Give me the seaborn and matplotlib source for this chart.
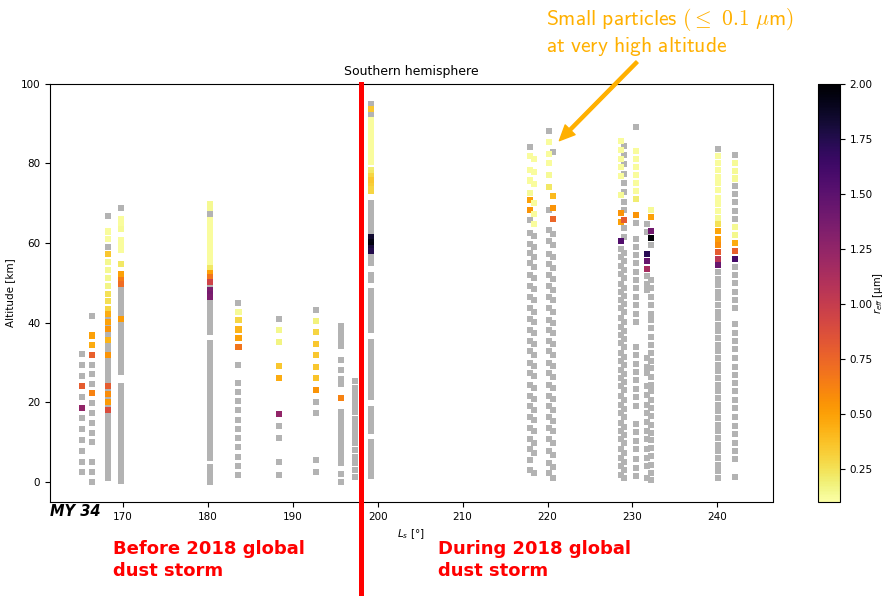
import numpy as np
import pandas as pd
import matplotlib
matplotlib.use("Agg")
import matplotlib.pyplot as plt
import seaborn as sns
from matplotlib.colors import Normalize
from matplotlib.cm import ScalarMappable

# Occultation profiles: solar longitude, altitudes without a retrieval (grey),
# and altitudes with a retrieved effective radius r_eff [um].
ls_p01 = 165.2
gray_p01 = [32.2, 29.5, 26.7, 21.3, 16.0, 13.3, 10.5, 7.8, 5.0, 2.5]
dust_alt_p01 = [24.0, 18.7]
dust_reff_p01 = [0.80, 1.25]

ls_p02 = 166.4
gray_p02 = [41.6, 29.5, 27.1, 24.7, 19.8, 17.3, 14.9, 12.4, 10.0, 5.0, 2.5, 0.0]
dust_alt_p02 = [36.8, 34.4, 32.0, 22.3]
dust_reff_p02 = [0.50, 0.45, 0.78, 0.62]

ls_p03 = 168.2
gray_p03 = [66.7, 59.1, 41.2, 39.3, 37.4, 36.5, 34.6, 33.6, 32.7, 30.9, 29.9, 28.9,
            27.9, 26.9, 25.9, 24.9, 23.0, 21.1, 19.1, 17.0, 16.0, 15.0, 14.0, 13.0,
            12.0, 11.0, 10.0, 9.0, 8.0, 7.0, 6.0, 5.0, 4.0, 3.0, 2.0, 1.0]
dust_alt_p03 = [62.9, 61.0, 57.2, 55.2, 53.3, 51.3, 49.3, 47.3, 45.4, 43.5, 42.2,
                40.2, 38.4, 35.7, 31.9, 24.0, 22.1, 20.1, 18.0]
dust_reff_p03 = [0.12, 0.12, 0.35, 0.15, 0.14, 0.15, 0.16, 0.25, 0.26, 0.30, 0.45,
                 0.50, 0.55, 0.42, 0.55, 0.80, 0.58, 0.52, 0.88]

ls_p04 = 169.8
gray_p04 = [68.8, 48.6, 47.6, 46.6, 45.6, 44.6, 43.6, 42.6, 41.7, 39.9, 38.9, 37.9,
            36.9, 35.9, 34.9, 33.9, 32.8, 31.8, 30.8, 29.8, 28.7, 27.6, 24.2, 23.2,
            22.2, 21.2, 20.2, 19.2, 18.2, 17.2, 16.2, 15.2, 14.2, 13.2, 12.2, 11.2,
            10.2, 9.2, 8.2, 7.2, 6.2, 5.2, 4.2, 3.2, 2.2, 1.2, 0.2]
dust_alt_p04 = [66.1, 64.8, 63.6, 60.7, 59.4, 58.2, 54.8, 52.2, 50.8, 49.8, 40.9]
dust_reff_p04 = [0.12, 0.12, 0.13, 0.12, 0.12, 0.12, 0.22, 0.50, 0.65, 0.72, 0.52]

ls_p05 = 180.2
gray_p05 = [67.8, 66.8, 49.2, 45.4, 44.5, 43.6, 42.7, 41.8, 40.9, 40.0, 39.1, 38.2,
            37.6, 35.0, 34.1, 33.2, 32.3, 31.4, 30.5, 29.6, 28.7, 27.8, 26.9, 26.0,
            25.1, 24.2, 23.3, 22.4, 21.5, 20.6, 19.7, 18.8, 17.9, 17.0, 16.1, 15.2,
            14.3, 13.4, 12.5, 11.6, 10.7, 9.8, 8.9, 8.0, 7.1, 6.0, 3.7, 2.8, 1.9,
            1.0, 0.1]
dust_alt_p05 = [69.8, 68.9, 65.8, 65.0, 64.2, 63.4, 62.6, 61.8, 61.0, 60.2, 59.4,
                58.6, 57.8, 57.0, 56.2, 55.4, 54.6, 53.8, 52.6, 51.5, 50.2, 48.3,
                47.3, 46.5]
dust_reff_p05 = [0.14, 0.14, 0.12, 0.12, 0.12, 0.12, 0.12, 0.12, 0.12, 0.12, 0.12,
                 0.12, 0.12, 0.12, 0.12, 0.12, 0.12, 0.22, 0.50, 0.68, 0.95, 1.35,
                 1.38, 1.35]

ls_p06 = 183.6
gray_p06 = [45.0, 29.4, 24.8, 22.6, 20.3, 18.0, 15.7, 13.4, 11.1, 8.8, 6.4, 4.1, 1.8]
dust_alt_p06 = [42.8, 40.6, 38.3, 36.1, 33.8]
dust_reff_p06 = [0.13, 0.30, 0.42, 0.50, 0.68]

ls_p07 = 188.4
gray_p07 = [41.0, 14.1, 11.0, 5.0, 1.9]
dust_alt_p07 = [38.1, 35.1, 29.2, 26.2, 17.1]
dust_reff_p07 = [0.15, 0.17, 0.35, 0.45, 1.25]

ls_p08 = 192.7
gray_p08 = [43.2, 20.2, 17.3, 5.5, 2.5]
dust_alt_p08 = [40.4, 37.6, 34.7, 31.8, 29.0, 26.1, 23.1]
dust_reff_p08 = [0.18, 0.30, 0.35, 0.35, 0.35, 0.36, 0.55]

ls_p09 = 195.7
gray_p09 = [39.2, 37.8, 36.6, 35.3, 34.2, 30.7, 28.2, 25.9, 24.7, 17.6, 16.3, 15.1,
            13.8, 12.6, 11.3, 10.1, 8.8, 7.6, 6.3, 4.7, 2.0, 0.1]
dust_alt_p09 = [21.2]
dust_reff_p09 = [0.62]

ls_p10 = 197.3
gray_p10 = [25.3, 23.7, 22.2, 20.7, 19.0, 17.5, 15.8, 14.3, 12.8, 11.2, 9.7, 8.0,
            6.3, 4.7, 3.0, 1.3]
dust_alt_p10 = []
dust_reff_p10 = []

ls_p11 = 199.2
gray_p11 = [95.0, 92.3, 70.0, 69.2, 68.4, 67.6, 66.8, 66.0, 65.2, 64.4, 63.6, 62.8,
            57.0, 56.1, 55.1, 52.0, 51.4, 50.8, 47.9, 47.1, 46.3, 45.5, 44.7, 43.9,
            43.1, 42.3, 41.5, 40.7, 39.9, 39.1, 38.3, 35.2, 34.4, 33.6, 32.8, 32.0,
            31.2, 30.4, 29.6, 28.8, 28.0, 27.2, 26.4, 25.6, 24.8, 24.0, 23.2, 22.4,
            21.4, 18.3, 17.5, 16.7, 15.9, 15.1, 14.3, 13.5, 12.9, 10.0, 9.2, 8.4,
            7.6, 6.8, 6.0, 5.2, 4.4, 3.6, 2.8, 2.2, 1.5]
dust_alt_p11 = [93.6, 90.8, 90.0, 89.2, 88.4, 87.6, 86.8, 86.0, 85.2, 84.4, 83.6,
                82.8, 82.0, 81.2, 80.4, 78.3, 77.5, 76.7, 75.9, 75.1, 74.3, 73.5,
                73.0, 61.6, 60.9, 60.2, 59.5, 58.7, 58.0]
dust_reff_p11 = [0.35, 0.12, 0.12, 0.12, 0.12, 0.12, 0.12, 0.12, 0.12, 0.12, 0.12,
                 0.12, 0.12, 0.12, 0.12, 0.20, 0.22, 0.30, 0.35, 0.35, 0.33, 0.30,
                 0.30, 1.83, 1.85, 1.93, 1.95, 1.80, 1.75]

ls_p12a = 217.9
gray_p12a = [84.2, 65.7, 62.4, 59.8, 57.4, 54.9, 52.0, 49.2, 46.5, 43.6, 40.9, 38.2,
             35.5, 32.8, 30.0, 27.4, 24.4, 21.7, 19.0, 16.3, 13.6, 10.7, 8.2, 5.5, 3.0]
dust_alt_p12a = [81.9, 78.4, 75.7, 72.6, 70.9, 68.2]
dust_reff_p12a = [0.12, 0.12, 0.12, 0.13, 0.50, 0.55]

ls_p12b = 218.4
gray_p12b = [61.7, 59.0, 56.6, 54.1, 51.2, 48.4, 45.7, 42.8, 40.1, 37.4, 34.7, 32.0,
             29.2, 26.6, 23.6, 20.9, 18.2, 15.5, 12.8, 9.9, 7.4, 2.2]
dust_alt_p12b = [81.1, 77.8, 74.8, 70.0, 67.4, 64.7]
dust_reff_p12b = [0.12, 0.12, 0.12, 0.12, 0.12, 0.12]

ls_p13a = 220.2
gray_p13a = [88.2, 68.4, 63.2, 60.4, 57.3, 54.7, 51.9, 49.2, 46.5, 43.6, 40.8, 38.2,
             35.5, 32.8, 30.0, 27.4, 24.4, 21.7, 19.0, 16.3, 13.6, 10.7, 7.8, 4.8, 2.3]
dust_alt_p13a = [85.3, 82.4, 80.0, 77.2, 74.1]
dust_reff_p13a = [0.12, 0.12, 0.12, 0.13, 0.22]

ls_p13b = 220.6
gray_p13b = [82.9, 62.3, 59.5, 56.4, 53.8, 51.0, 48.3, 45.6, 42.7, 39.9, 37.3, 34.6,
             31.9, 29.1, 26.5, 23.5, 20.8, 18.1, 15.4, 12.7, 9.8, 6.9, 3.9, 1.0]
dust_alt_p13b = [71.8, 68.8, 66.1]
dust_reff_p13b = [0.40, 0.55, 0.75]

ls_p14a = 228.6
gray_p14a = [58.6, 56.5, 54.3, 52.2, 49.8, 47.8, 45.7, 43.6, 41.1, 39.0, 36.9, 34.9,
             32.3, 30.3, 28.2, 26.1, 24.0, 21.5, 19.4, 17.4, 14.9, 12.8, 10.7, 8.2,
             6.1, 4.0, 1.9]
dust_alt_p14a = [85.7, 83.4, 81.1, 79.1, 76.8, 72.0, 67.5, 65.3, 60.5]
dust_reff_p14a = [0.12, 0.12, 0.12, 0.12, 0.12, 0.13, 0.55, 0.50, 1.55]

ls_p14b = 229.0
gray_p14b = [84.4, 82.1, 79.8, 77.4, 75.0, 72.8, 70.4, 68.2, 63.7, 61.6, 57.6, 55.5,
             53.3, 51.2, 48.8, 46.8, 44.7, 42.6, 40.1, 38.0, 35.9, 33.9, 31.3, 29.3,
             27.2, 25.1, 23.0, 20.5, 18.4, 16.4, 13.9, 11.8, 9.7, 7.2, 5.1, 3.0, 0.9]
dust_alt_p14b = [65.9]
dust_reff_p14b = [0.80]

ls_p15 = 230.4
gray_p15 = [89.2, 65.1, 61.1, 59.1, 57.0, 54.9, 52.8, 50.7, 48.6, 46.5, 44.4, 42.3,
            40.2, 34.0, 31.9, 29.7, 27.6, 25.5, 23.4, 21.3, 19.2, 14.7, 12.6, 10.4,
            8.2, 5.9, 3.6, 1.5]
dust_alt_p15 = [83.2, 81.2, 79.2, 77.2, 75.1, 73.0, 71.0, 67.1]
dust_reff_p15 = [0.12, 0.12, 0.12, 0.12, 0.12, 0.12, 0.20, 0.55]

ls_p16a = 231.7
gray_p16a = [64.9, 62.8, 51.7, 49.8, 48.2, 31.1, 29.0, 27.3, 24.0, 21.9, 19.4, 17.3,
             15.2, 12.8, 10.7, 8.2, 6.1, 4.0, 1.1]
dust_alt_p16a = [57.2, 55.4, 53.6]
dust_reff_p16a = [1.72, 1.45, 1.15]

ls_p16b = 232.2
gray_p16b = [59.4, 50.7, 48.6, 46.5, 44.4, 42.3, 40.7, 38.6, 36.5, 34.4, 32.3, 30.5,
             28.6, 26.5, 24.4, 22.8, 20.7, 18.6, 16.5, 14.4, 12.3, 10.5, 8.6, 6.5,
             4.4, 2.3, 0.5]
dust_alt_p16b = [68.4, 66.5, 63.0, 61.3]
dust_reff_p16b = [0.13, 0.50, 1.40, 1.98]

ls_p17 = 240.1
gray_p17 = [83.5, 52.8, 51.1, 49.4, 47.8, 46.1, 44.4, 42.8, 41.1, 39.4, 37.8, 36.1,
            34.4, 32.8, 31.1, 29.4, 27.8, 26.1, 24.4, 22.8, 21.1, 19.4, 17.8, 16.1,
            14.4, 12.8, 11.1, 9.4, 7.8, 6.1, 4.4, 2.8, 1.1]
dust_alt_p17 = [81.8, 80.1, 78.3, 76.6, 75.0, 73.3, 71.4, 69.7, 68.0, 66.4, 64.7,
                63.0, 61.1, 59.4, 57.8, 56.1, 54.4]
dust_reff_p17 = [0.12, 0.12, 0.12, 0.12, 0.12, 0.12, 0.12, 0.12, 0.12, 0.13, 0.25,
                 0.48, 0.52, 0.58, 0.80, 1.05, 1.45]

ls_p18 = 242.1
gray_p18 = [82.2, 74.3, 72.3, 70.2, 68.1, 66.0, 54.1, 51.9, 49.9, 47.8, 45.7, 43.6,
            39.6, 37.5, 35.4, 33.4, 31.2, 29.0, 26.9, 24.9, 22.8, 20.7, 18.5, 16.4,
            14.2, 12.0, 9.9, 7.8, 5.7, 1.4]
dust_alt_p18 = [80.1, 78.1, 76.2, 64.1, 62.1, 60.1, 58.1, 56.1]
dust_reff_p18 = [0.13, 0.13, 0.13, 0.14, 0.15, 0.45, 0.78, 1.60]

storm_onset_ls = 198.0
arrow_target = (221.4, 85.7)

profiles = [
    (ls_p01, gray_p01, dust_alt_p01, dust_reff_p01),
    (ls_p02, gray_p02, dust_alt_p02, dust_reff_p02),
    (ls_p03, gray_p03, dust_alt_p03, dust_reff_p03),
    (ls_p04, gray_p04, dust_alt_p04, dust_reff_p04),
    (ls_p05, gray_p05, dust_alt_p05, dust_reff_p05),
    (ls_p06, gray_p06, dust_alt_p06, dust_reff_p06),
    (ls_p07, gray_p07, dust_alt_p07, dust_reff_p07),
    (ls_p08, gray_p08, dust_alt_p08, dust_reff_p08),
    (ls_p09, gray_p09, dust_alt_p09, dust_reff_p09),
    (ls_p10, gray_p10, dust_alt_p10, dust_reff_p10),
    (ls_p11, gray_p11, dust_alt_p11, dust_reff_p11),
    (ls_p12a, gray_p12a, dust_alt_p12a, dust_reff_p12a),
    (ls_p12b, gray_p12b, dust_alt_p12b, dust_reff_p12b),
    (ls_p13a, gray_p13a, dust_alt_p13a, dust_reff_p13a),
    (ls_p13b, gray_p13b, dust_alt_p13b, dust_reff_p13b),
    (ls_p14a, gray_p14a, dust_alt_p14a, dust_reff_p14a),
    (ls_p14b, gray_p14b, dust_alt_p14b, dust_reff_p14b),
    (ls_p15, gray_p15, dust_alt_p15, dust_reff_p15),
    (ls_p16a, gray_p16a, dust_alt_p16a, dust_reff_p16a),
    (ls_p16b, gray_p16b, dust_alt_p16b, dust_reff_p16b),
    (ls_p17, gray_p17, dust_alt_p17, dust_reff_p17),
    (ls_p18, gray_p18, dust_alt_p18, dust_reff_p18),
]

gray_rows, dust_rows = [], []
for ls, g_alt, d_alt, d_reff in profiles:
    gray_rows += [(ls, a) for a in g_alt]
    dust_rows += [(ls, a, r) for a, r in zip(d_alt, d_reff)]
gray_df = pd.DataFrame(gray_rows, columns=["Ls", "alt"])
dust_df = pd.DataFrame(dust_rows, columns=["Ls", "alt", "reff"])

W, H = 885, 596
fig = plt.figure(figsize=(W / 100, H / 100), dpi=100)
ax = fig.add_axes([50 / W, 94 / H, 722.5 / W, 418.3 / H])
cax = fig.add_axes([818 / W, 94 / H, 22 / W, 418.3 / H])

norm = Normalize(0.1, 2.0)
sns.scatterplot(data=gray_df, x="Ls", y="alt", color="#b3b3b3", marker="s",
                s=19, linewidth=0, ax=ax)
sns.scatterplot(data=dust_df, x="Ls", y="alt", hue="reff", palette="inferno_r",
                hue_norm=(0.1, 2.0), marker="s", s=19, linewidth=0,
                legend=False, ax=ax)

ax.set_xlim(161.4, 246.5)
ax.set_ylim(-5, 100)
ax.set_xticks(np.arange(170, 241, 10))
ax.set_yticks(np.arange(0, 101, 20))
ax.tick_params(labelsize=7.5)
ax.set_xlabel("$L_s$ [°]", fontsize=7.5)
ax.set_ylabel("Altitude [km]", fontsize=7.5)
ax.set_title("Southern hemisphere", fontsize=9)

# onset of the global dust storm, extended down through the figure margin
ax.axvline(storm_onset_ls, ymin=-0.23, ymax=1.0, color="red", lw=3.6,
           clip_on=False, zorder=5)

cb = fig.colorbar(ScalarMappable(norm=norm, cmap="inferno_r"), cax=cax)
cb.set_ticks(np.arange(0.25, 2.01, 0.25))
cb.ax.yaxis.set_major_formatter("{x:.2f}")
cb.ax.tick_params(labelsize=7.5)
cb.set_label(r"$r_{eff}$ [μm]", fontsize=7.2, labelpad=-1.5)

fig.text(50 / W, 1 - 512 / H, "MY 34", fontsize=10.5, fontweight="bold",
         fontstyle="italic", va="center", ha="left")
fig.text(113 / W, 1 - 540 / H, "Before 2018 global\ndust storm", color="red",
         fontsize=13, fontweight="bold", va="top", ha="left", linespacing=1.3)
fig.text(438 / W, 1 - 540 / H, "During 2018 global\ndust storm", color="red",
         fontsize=13, fontweight="bold", va="top", ha="left", linespacing=1.3)

orange = "#ffb000"
fig.text(546 / W, 1 - 6 / H,
         r"$\mathsf{Small\ particles\ (}\leq\mathsf{\ 0.1\ }\mu\mathsf{m)}$" + "\n"
         + r"$\mathsf{at\ very\ high\ altitude}$",
         color=orange, fontsize=15.5, math_fontfamily="cm", va="top", ha="left",
         linespacing=1.1)
ax.annotate("", xy=arrow_target, xycoords="data",
            xytext=(637 / W, 1 - 62 / H), textcoords="figure fraction",
            arrowprops=dict(facecolor=orange, edgecolor=orange, width=2.2,
                            headwidth=10, headlength=11, shrink=0),
            annotation_clip=False)

fig.savefig("out.png", dpi=100)
